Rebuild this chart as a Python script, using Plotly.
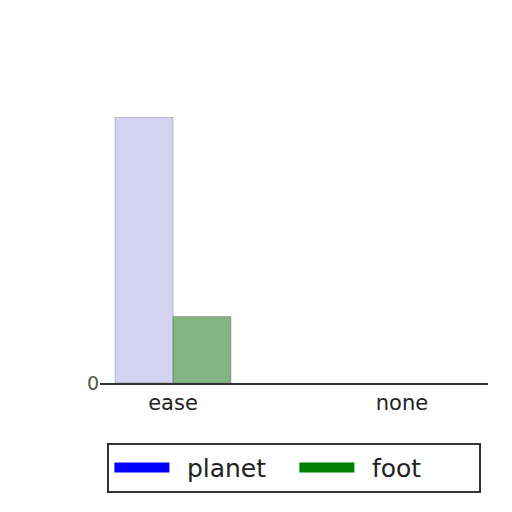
import plotly.graph_objects as go

categories = ["ease", "none"]
planet = [8, 0]
foot = [2, 0]

series = [
    ("planet", planet, "rgba(40,40,190,0.2)", "rgb(0,0,255)"),
    ("foot", foot, "rgba(30,120,30,0.55)", "rgb(0,128,0)"),
]

fig = go.Figure()
for name, values, fill, solid in series:
    fig.add_trace(go.Bar(
        x=categories, y=values, name=name, showlegend=False,
        marker=dict(color=fill, line=dict(color="rgba(90,90,90,0.35)",
                                          width=[1 if v else 0 for v in values])),
    ))
# legend entries drawn in the full colour, with a wider gap before the text
for name, values, fill, solid in series:
    fig.add_trace(go.Scatter(
        x=[categories[0]], y=[None], name="\u2002" + name, mode="lines",
        line=dict(color=solid, width=18),
    ))

fig.update_layout(
    width=512, height=512,
    margin=dict(l=92, r=32, t=109, b=137),
    paper_bgcolor="white", plot_bgcolor="white",
    barmode="group", bargap=0.494, bargroupgap=0,
    font=dict(family="DejaVu Sans", color="#222"),
    legend=dict(
        orientation="h", x=0.501, xanchor="center", y=-0.225, yanchor="top",
        bordercolor="#333", borderwidth=2, bgcolor="white",
        font=dict(size=25), itemwidth=55, entrywidth=115,
    ),
)
fig.update_xaxes(
    range=[-0.319, 1.376], showgrid=False, showline=True,
    linecolor="#333", linewidth=2, tickfont=dict(size=21), ticks="",
)
fig.update_yaxes(
    range=[0, 8], showgrid=False, zeroline=False, showline=False,
    tickvals=[0], ticktext=["0"], tickfont=dict(size=19, color="#555"),
)

fig.write_html("out.html")
